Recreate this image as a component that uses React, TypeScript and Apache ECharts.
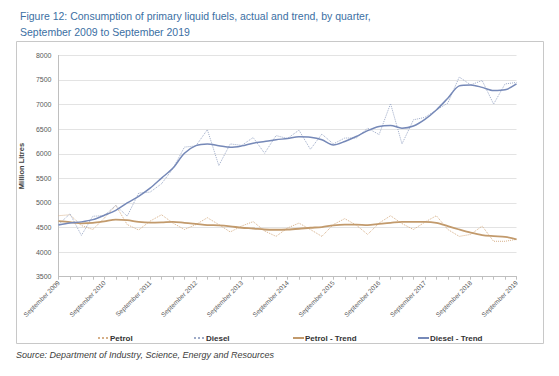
import React, { useEffect, useRef } from "react";
import * as echarts from "echarts";

const quarterMonths = ["September", "December", "March", "June"];
const startYear = 2009;
const quarterCount = 41;
const categories: string[] = [];
for (let i = 0; i < quarterCount; i++) {
  const m = quarterMonths[i % 4];
  const y = startYear + Math.floor((i + 2) / 4);
  categories.push(`${m} ${y}`);
}

const petrol = [
  4740, 4760, 4540, 4460, 4690, 4950, 4560, 4450, 4630, 4760,
  4590, 4460, 4560, 4700, 4560, 4410, 4530, 4620, 4430, 4320,
  4490, 4590, 4460, 4320, 4560, 4680, 4550, 4360, 4590, 4740,
  4580, 4460, 4610, 4740, 4460, 4320, 4360, 4530, 4220, 4220,
  4260,
];

const diesel = [
  4560, 4780, 4340, 4730, 4740, 4950, 4730, 5200, 5220, 5390,
  5700, 6135, 6160, 6490, 5760, 6200, 6170, 6330, 6010, 6370,
  6310, 6480, 6090, 6400, 6200, 6320, 6320, 6520, 6390, 7020,
  6200, 6690, 6740, 6890, 7030, 7560, 7400, 7490, 7010, 7420,
  7450,
];

const petrolTrend = [
  4630, 4610, 4585, 4595, 4625, 4660, 4650, 4615, 4600, 4605,
  4615, 4595, 4575, 4550, 4545, 4525, 4495, 4480, 4460, 4455,
  4460, 4475, 4495, 4510, 4545, 4560, 4560, 4550, 4575, 4595,
  4615, 4615, 4615, 4595, 4530, 4460, 4395, 4345, 4325, 4310,
  4260,
];

const dieselTrend = [
  4550, 4590, 4615, 4660, 4750, 4850, 5000, 5135, 5300, 5505,
  5710, 6010, 6165, 6200, 6165, 6130, 6160, 6215, 6250, 6285,
  6310, 6345, 6335, 6285, 6180, 6250, 6350, 6470, 6555, 6575,
  6520, 6565, 6700, 6890, 7130, 7380, 7400, 7350, 7285, 7300,
  7420,
];

const seriesNames = ["Petrol", "Diesel", "Petrol - Trend", "Diesel - Trend"];
const titleLines = [
  "Figure 12: Consumption of primary liquid fuels, actual and trend, by quarter,",
  "September 2009 to September 2019",
];
const sourceText = "Source: Department of Industry, Science, Energy and Resources";

const FONT = "'Liberation Sans', Arial, sans-serif";

export default function App() {
  const ref = useRef<HTMLDivElement>(null);

  useEffect(() => {
    document.body.style.margin = "0";
    if (!ref.current) return;
    const chart = echarts.init(ref.current, null, { renderer: "svg" });

    const colors = {
      petrol: "#d6b089",
      diesel: "#9eabc8",
      petrolTrend: "#c29a6c",
      dieselTrend: "#7689b8",
    };

    const legendPos = [92, 188, 287, 412];

    chart.setOption({
      animation: false,
      backgroundColor: "#ffffff",
      textStyle: { fontFamily: FONT },
      title: {
        text: titleLines.join("\n"),
        left: 15,
        top: 3,
        textStyle: {
          fontFamily: FONT,
          fontSize: 10.5,
          fontWeight: "normal",
          color: "#3b6fa3",
          lineHeight: 16,
        },
      },
      legend: seriesNames.map((n, i) => ({
        data: [n],
        left: legendPos[i],
        top: 329,
        itemWidth: 11,
        itemHeight: 8,
        itemGap: 2,
        itemStyle: { opacity: 0 },
        textStyle: {
          fontFamily: FONT,
          fontSize: 8,
          fontWeight: "bold",
          color: "#333333",
          padding: [0, 0, 0, -4],
        },
      })),
      grid: {
        left: 58.5,
        right: 42.5,
        top: 55.4,
        bottom: 99.3,
        containLabel: false,
      },
      xAxis: {
        type: "category",
        data: categories,
        boundaryGap: false,
        axisLine: { lineStyle: { color: "#bfbfbf", width: 1 } },
        axisTick: { show: true, interval: 0, length: 3, lineStyle: { color: "#bfbfbf" } },
        axisLabel: {
          interval: 3,
          rotate: 45,
          fontSize: 6.5,
          color: "#595959",
          margin: 5,
          fontFamily: FONT,
        },
        splitLine: { show: false },
      },
      yAxis: {
        type: "value",
        min: 3500,
        max: 8000,
        interval: 500,
        name: "Million Litres",
        nameLocation: "middle",
        nameGap: 30,
        nameTextStyle: { fontFamily: FONT, fontSize: 7.5, fontWeight: "bold", color: "#404040" },
        axisLine: { show: true, lineStyle: { color: "#bfbfbf", width: 1 } },
        axisTick: { show: false },
        axisLabel: {
          fontSize: 7,
          color: "#595959",
          margin: 7,
          fontFamily: FONT,
          formatter: (v: number) => String(v),
        },
        splitLine: { lineStyle: { color: "#e3e3e3", width: 1 } },
      },
      series: [
        {
          name: seriesNames[0],
          type: "line",
          data: petrol,
          symbol: "none",
          lineStyle: { color: colors.petrol, width: 1, type: "dotted" },
          itemStyle: { color: colors.petrol },
          z: 2,
        },
        {
          name: seriesNames[1],
          type: "line",
          data: diesel,
          symbol: "none",
          lineStyle: { color: colors.diesel, width: 1, type: "dotted" },
          itemStyle: { color: colors.diesel },
          z: 2,
        },
        {
          name: seriesNames[2],
          type: "line",
          data: petrolTrend,
          symbol: "none",
          smooth: 0.3,
          lineStyle: { color: colors.petrolTrend, width: 1.8 },
          itemStyle: { color: colors.petrolTrend },
          z: 3,
        },
        {
          name: seriesNames[3],
          type: "line",
          data: dieselTrend,
          symbol: "none",
          smooth: 0.3,
          lineStyle: { color: colors.dieselTrend, width: 1.5 },
          itemStyle: { color: colors.dieselTrend },
          z: 3,
        },
      ],
      graphic: [
        {
          type: "rect",
          shape: { x: 16.5, y: 41.5, width: 527, height: 302 },
          style: { fill: "none", stroke: "#c8c8c8", lineWidth: 1 },
          silent: true,
          z: -1,
        },
        {
          type: "text",
          x: 16,
          y: 350,
          style: {
            text: sourceText,
            font: `italic 9px ${FONT}`,
            fill: "#404040",
          },
        },
      ],
    });

    return () => chart.dispose();
  }, []);

  return <div ref={ref} style={{ width: 559, height: 376 }} />;
}
